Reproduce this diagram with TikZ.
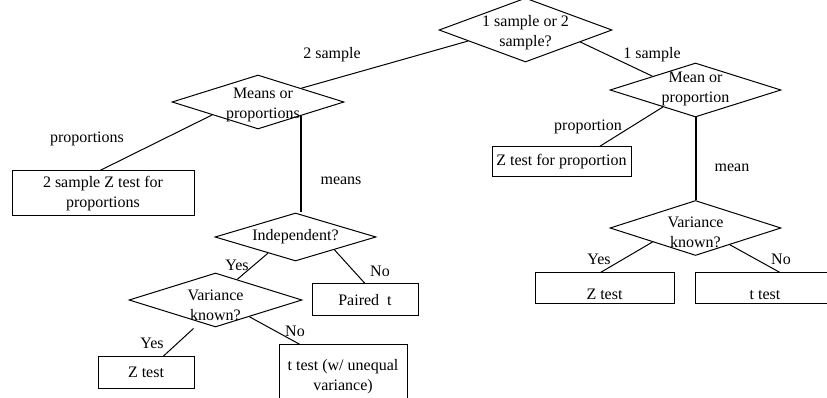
\documentclass[tikz,border=0pt]{standalone}
\usepackage{fontspec}
\setmainfont{Liberation Serif}
\usetikzlibrary{shapes.geometric,calc}
\newcommand{\tfont}{\fontsize{12}{15}\selectfont}
\tikzset{
    dia/.style 2 args={draw,diamond,inner sep=0pt,line width=0.75pt,
        minimum width=#1*0.75pt,minimum height=#2*0.75pt},
    dtext/.style={font=\tfont,align=center,inner sep=0pt},
    box/.style 2 args={draw,rectangle,inner sep=0pt,line width=0.75pt,
        align=center,font=\tfont,minimum width=#1*0.75pt,minimum height=#2*0.75pt},
    lowtext/.style={text height=16pt,text depth=0pt},
    txt/.style={font=\tfont,inner sep=0pt},
    branch/.style={line width=0.75pt},
    mainbranch/.style={line width=1.5pt},
}

\begin{document}
\begin{tikzpicture}[x=0.75pt,y=-0.75pt]
  \path[use as bounding box,clip] (0,0) rectangle (827,398);
  % questions
  \node[dia={173}{64},label={[dtext,yshift=-2pt]center:1 sample or 2\\sample?}] (q1) at (525.5,30) {};
  \node[dia={172}{54},label={[dtext,xshift=3.75pt,yshift=-2.25pt]center:Means or\\proportions}] (q2) at (258,102) {};
  \node[dia={171}{54},label={[dtext,yshift=1pt]center:Mean or\\proportion}] (q3) at (695.5,90) {};
  \node[dia={161}{48},label={[dtext]center:Independent?}] (q4) at (295.5,237) {};
  \node[dia={173}{54},label={[dtext,yshift=-4pt]center:Variance\\known?}] (q5) at (215.5,300) {};
  \node[dia={171}{55},label={[dtext,yshift=-3.4pt]center:Variance\\known?}] (q6) at (695.5,228) {};
  % tests
  \node[box={182}{45}] (b1) at (103,193.5) {2 sample Z test for\\proportions};
  \node[box={139}{30}] (b2) at (561.5,162) {Z test for proportion};
  \node[box={106}{32}] (b3) at (365,300) {Paired\ \ t};
  \node[box={96}{31}] (b4) at (146,372.5) {Z test};
  \node[box={128}{63}] (b5) at (343,376.5) {t test (w/ unequal\\variance)};
  \node[box={139}{31},lowtext] (b6) at (604.5,288.5) {Z test};
  \node[box={140}{31},lowtext] (b7) at (765,288.5) {t test};
  % branches
  \coordinate (q2se) at ($(q2.south)!0.5!(q2.east)$);
  \draw[branch] ($(q1.west)!0.34!(q1.south)$) -- ($(q2.north)!0.5!(q2.east)$);
  \draw[branch] ($(q1.south)!0.63!(q1.east)$) -- ($(q3.west)!0.5!(q3.north)$);
  \draw[branch] ($(q2.west)!0.47!(q2.south)$) -- ($(b1.north)+(-3,0)$);
  \draw[mainbranch] (q2se) -- (q2se |- q4.north);
  \draw[branch] ($(q4.west)!0.66!(q4.south)$) -- ($(q5.north)!0.25!(q5.east)$);
  \draw[branch] ($(q4.south)!0.48!(q4.east)$) -- (b3.north);
  \draw[branch] ($(q5.south)+(-22,1)$) -- ($(b4.north)+(17,0)$);
  \draw[branch] ($(q5.south)!0.39!(q5.east)$) -- ($(b5.north)+(-43,0)$);
  \draw[branch] ($(q3.west)!0.62!(q3.south)$) -- ($(b2.north)+(38,0)$);
  \draw[mainbranch] (q3.south) -- (q6.north);
  \draw[branch] ($(q6.west)!0.5!(q6.south)$) -- ($(b6.north)+(-4,0)$);
  \draw[branch] ($(q6.south)!0.4!(q6.east)$) -- ($(b7.north)+(15,0)$);
  % branch labels
  \node[txt] (l2s) at (332,55) {2 sample};
  \node[txt] (l1s) at (652,55) {1 sample};
  \node[txt] (lprops) at (87,139) {proportions};
  \node[txt] (lmeans) at (341,181) {means};
  \node[txt] (lprop) at (588,127) {proportion};
  \node[txt] (lmean) at (732,168) {mean};
  \node[txt] (lyes1) at (237,265) {Yes};
  \node[txt] (lno1) at (380,271) {No};
  \node[txt] (lyes2) at (152,343) {Yes};
  \node[txt] (lno2) at (295,331) {No};
  \node[txt] (lyes3) at (599,259) {Yes};
  \node[txt] (lno3) at (781,259) {No};
\end{tikzpicture}
\end{document}
